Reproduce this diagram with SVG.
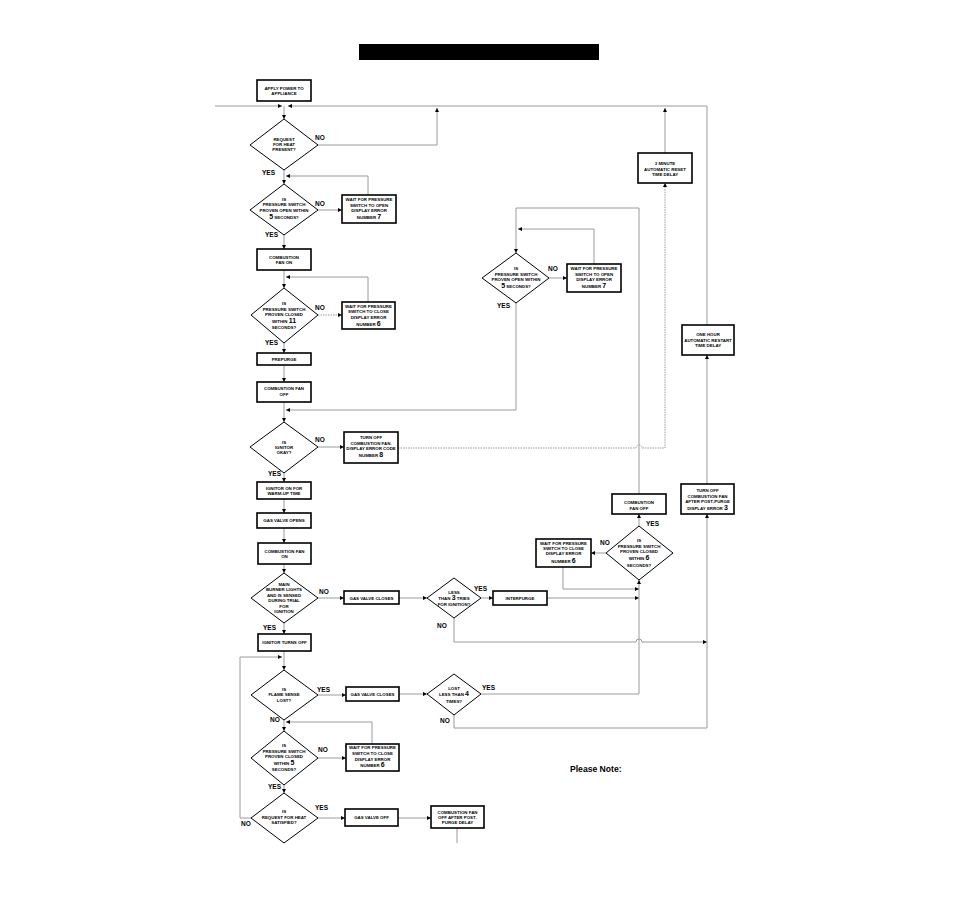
<svg xmlns="http://www.w3.org/2000/svg" width="954" height="906" viewBox="0 0 954 906">
<defs>
<marker id="ah" viewBox="0 0 6 6" refX="6" refY="3" markerWidth="4" markerHeight="4" orient="auto" markerUnits="userSpaceOnUse">
<path d="M0,0 L6,3 L0,6 z" fill="#000"/>
</marker>
</defs>
<style>
.box{fill:#fff;stroke:#000;stroke-width:1.6}
.dia{fill:#fff;stroke:#000;stroke-width:1}
.t{font-family:"Liberation Sans",Arial,sans-serif;font-weight:bold;font-size:4.4px;text-anchor:middle;fill:#000}
.n{font-size:7px}
.l{font-family:"Liberation Sans",Arial,sans-serif;font-weight:bold;font-size:6.5px;fill:#000}
.c{fill:none;stroke:#9a9a9a;stroke-width:1}
.a{marker-end:url(#ah)}
.d{stroke-dasharray:1.5,1}
</style>
<rect width="954" height="906" fill="#fff"/>
<rect id="title" x="359" y="44" width="240" height="16" fill="#000"/>

<g id="connectors">
<path class="c a" d="M215,106 H282"/>
<path class="c a" d="M707,325 V106 H288"/>
<path class="c a" d="M318,145 H437 V108"/>
<path class="c a" d="M665,153 V108"/>
<path class="c a" d="M284,106 V119"/>
<path class="c a" d="M284,170 V184"/>
<path class="c a" d="M318,210 H342"/>
<path class="c a" d="M368,195 V176 H286"/>
<path class="c a" d="M284,235 V249"/>
<path class="c a" d="M284,270 V288"/>
<path class="c a" d="M368,302 V277 H286"/>
<path class="c a d" d="M318,315 H342"/>
<path class="c a" d="M284,343 V353"/>
<path class="c a" d="M284,365 V382"/>
<path class="c a" d="M284,402 V422"/>
<path class="c a" d="M516,303 V410 H286"/>
<path class="c a" d="M318,447 H344"/>
<path class="c a d" d="M398,448 H636 a3,3 0 0 1 6,0 H665 V183"/>
<path class="c a" d="M284,473 V482"/>
<path class="c a" d="M284,499 V513"/>
<path class="c a" d="M284,528 V543"/>
<path class="c a" d="M284,564 V573"/>
<path class="c a" d="M318,598 H344"/>
<path class="c a" d="M399,598 H427"/>
<path class="c a" d="M481,598 H493"/>
<path class="c a" d="M547,598 H639"/>
<path class="c a" d="M454,618 V642 H636 a3,3 0 0 1 6,0 H707"/>
<path class="c a" d="M284,623 V634"/>
<path class="c a" d="M284,651 V670"/>
<path class="c a" d="M251,818 H240 V657 H282"/>
<path class="c a" d="M318,695 H346"/>
<path class="c a" d="M399,694 H427"/>
<path class="c a" d="M481,694 H639 V580"/>
<path class="c a" d="M454,715 V728 H707 V514"/>
<path class="c a" d="M707,484 V355"/>
<path class="c a" d="M284,720 V731"/>
<path class="c a" d="M372,744 V722 H286"/>
<path class="c a" d="M318,758 H346"/>
<path class="c a" d="M284,785 V793"/>
<path class="c a" d="M318,818 H345"/>
<path class="c a" d="M398,818 H431"/>
<path class="c" d="M457,828 V843"/>
<path class="c a" d="M639,526 V514"/>
<path class="c a" d="M606,553 H591"/>
<path class="c a" d="M563,567 V589 H639"/>
<path class="c a" d="M639,494 V208 H516 V253"/>
<path class="c a" d="M549,278 H567"/>
<path class="c a" d="M594,264 V229 H518"/>
</g>

<g id="labels">
<text class="l" x="315" y="139.5">NO</text>
<text class="l" x="262" y="175">YES</text>
<text class="l" x="315" y="205.5">NO</text>
<text class="l" x="265" y="237">YES</text>
<text class="l" x="315" y="310">NO</text>
<text class="l" x="265" y="345">YES</text>
<text class="l" x="315" y="441.5">NO</text>
<text class="l" x="268" y="475.5">YES</text>
<text class="l" x="319" y="593.5">NO</text>
<text class="l" x="263" y="629.5">YES</text>
<text class="l" x="474" y="590.5">YES</text>
<text class="l" x="437" y="627.5">NO</text>
<text class="l" x="548" y="270.5">NO</text>
<text class="l" x="497" y="307.5">YES</text>
<text class="l" x="646" y="525.5">YES</text>
<text class="l" x="600" y="544.5">NO</text>
<text class="l" x="317" y="691.5">YES</text>
<text class="l" x="270" y="721.5">NO</text>
<text class="l" x="482" y="689.5">YES</text>
<text class="l" x="440" y="723">NO</text>
<text class="l" x="318" y="751.5">NO</text>
<text class="l" x="268" y="789">YES</text>
<text class="l" x="315" y="809.5">YES</text>
<text class="l" x="241" y="826">NO</text>
</g>

<g id="apply"><rect class="box" x="257" y="80" width="54" height="21"/>
<text class="t" x="284" y="89.5">APPLY POWER TO</text><text class="t" x="284" y="94.5">APPLIANCE</text></g>

<g id="d1"><polygon class="dia" points="284,119 318,145 284,170 250,145"/>
<text class="t" x="284" y="140.5">REQUEST</text><text class="t" x="284" y="145.5">FOR HEAT</text><text class="t" x="284" y="150.5">PRESENT?</text></g>

<g id="d2"><polygon class="dia" points="284,184 318,210 284,235 250,210"/>
<text class="t" x="284" y="200.5">IS</text><text class="t" x="284" y="206">PRESSURE SWITCH</text><text class="t" x="284" y="211.5">PROVEN OPEN WITHIN</text><text class="t" x="284" y="219"><tspan class="n">5</tspan> SECONDS?</text></g>

<g id="wait7a"><rect class="box" x="342" y="195" width="54" height="28"/>
<text class="t" x="369" y="200.5">WAIT FOR PRESSURE</text><text class="t" x="369" y="206.5">SWITCH TO OPEN</text><text class="t" x="369" y="211.5">DISPLAY ERROR</text><text class="t" x="369" y="219">NUMBER <tspan class="n">7</tspan></text></g>

<g id="fanon1"><rect class="box" x="257" y="249" width="54" height="21"/>
<text class="t" x="284" y="258.5">COMBUSTION</text><text class="t" x="284" y="263.5">FAN ON</text></g>

<g id="d3"><polygon class="dia" points="284,288 318,315 284,343 251,315"/>
<text class="t" x="284" y="304.5">IS</text><text class="t" x="284" y="310.5">PRESSURE SWITCH</text><text class="t" x="284" y="315.5">PROVEN CLOSED</text><text class="t" x="284" y="323">WITHIN <tspan class="n">11</tspan></text><text class="t" x="284" y="328.5">SECONDS?</text></g>

<g id="wait6a"><rect class="box" x="342" y="302" width="53" height="27"/>
<text class="t" x="368.5" y="307.5">WAIT FOR PRESSURE</text><text class="t" x="368.5" y="312.5">SWITCH TO CLOSE</text><text class="t" x="368.5" y="318.5">DISPLAY ERROR</text><text class="t" x="368.5" y="326">NUMBER  <tspan class="n">6</tspan></text></g>

<g id="prepurge"><rect class="box" x="257" y="353" width="54" height="12"/>
<text class="t" x="284" y="360.5">PREPURGE</text></g>

<g id="fanoff1"><rect class="box" x="257" y="382" width="54" height="20"/>
<text class="t" x="284" y="389.5">COMBUSTION FAN</text><text class="t" x="284" y="395.5">OFF</text></g>

<g id="d4"><polygon class="dia" points="284,422 318,447 284,473 250,447"/>
<text class="t" x="284" y="443.5">IS</text><text class="t" x="284" y="448.5">IGNITOR</text><text class="t" x="284" y="453.5">OKAY?</text></g>

<g id="err8"><rect class="box" x="344" y="432" width="54" height="31"/>
<text class="t" x="371" y="438.5">TURN OFF</text><text class="t" x="371" y="444.5">COMBUSTION FAN.</text><text class="t" x="371" y="449.5">DISPLAY ERROR CODE</text><text class="t" x="371" y="457">NUMBER <tspan class="n">8</tspan></text></g>

<g id="ignon"><rect class="box" x="257" y="482" width="54" height="17"/>
<text class="t" x="284" y="489.5">IGNITOR ON FOR</text><text class="t" x="284" y="494.5">WARM-UP TIME</text></g>

<g id="gvopen"><rect class="box" x="257" y="513" width="54" height="15"/>
<text class="t" x="284" y="521.5">GAS VALVE OPENS</text></g>

<g id="fanon2"><rect class="box" x="258" y="543" width="53" height="21"/>
<text class="t" x="284.5" y="552.5">COMBUSTION FAN</text><text class="t" x="284.5" y="557.5">ON</text></g>

<g id="d5"><polygon class="dia" points="284,573 318,598 284,623 251,598"/>
<text class="t" x="284" y="585.5">MAIN</text><text class="t" x="284" y="590.5">BURNER LIGHTS</text><text class="t" x="284" y="596.5">AND IS SENSED</text><text class="t" x="284" y="601.5">DURING TRIAL</text><text class="t" x="284" y="607.5">FOR</text><text class="t" x="284" y="612.5">IGNITION</text></g>

<g id="gvclose1"><rect class="box" x="344" y="591" width="55" height="13"/>
<text class="t" x="371.5" y="599.5">GAS VALVE CLOSES</text></g>

<g id="d6"><polygon class="dia" points="454,578 481,598 454,618 427,598"/>
<text class="t" x="454" y="593.5">LESS</text><text class="t" x="454" y="600">THAN <tspan class="n">3</tspan> TRIES</text><text class="t" x="454" y="605.5">FOR IGNITION?</text></g>

<g id="interpurge"><rect class="box" x="493" y="591" width="54" height="14"/>
<text class="t" x="520" y="599.5">INTERPURGE</text></g>

<g id="ignoff"><rect class="box" x="258" y="634" width="53" height="17"/>
<text class="t" x="284.5" y="643.5">IGNITOR TURNS OFF</text></g>

<g id="d10"><polygon class="dia" points="284,670 318,695 284,720 251,695"/>
<text class="t" x="284" y="690.5">IS</text><text class="t" x="284" y="695.5">FLAME SENSE</text><text class="t" x="284" y="701.5">LOST?</text></g>

<g id="gvclose2"><rect class="box" x="346" y="687" width="53" height="14"/>
<text class="t" x="372.5" y="695.5">GAS VALVE CLOSES</text></g>

<g id="d9"><polygon class="dia" points="454,674 481,694 454,715 427,694"/>
<text class="t" x="454" y="689.5">LOST</text><text class="t" x="454" y="696">LESS THAN <tspan class="n">4</tspan></text><text class="t" x="454" y="702.5">TIMES?</text></g>

<g id="d11"><polygon class="dia" points="284,731 318,758 284,785 251,758"/>
<text class="t" x="284" y="746.5">IS</text><text class="t" x="284" y="752.5">PRESSURE SWITCH</text><text class="t" x="284" y="757.5">PROVEN CLOSED</text><text class="t" x="284" y="765">WITHIN <tspan class="n">5</tspan></text><text class="t" x="284" y="770.5">SECONDS?</text></g>

<g id="wait6c"><rect class="box" x="346" y="744" width="53" height="27"/>
<text class="t" x="372.5" y="748.5">WAIT FOR PRESSURE</text><text class="t" x="372.5" y="754.5">SWITCH TO CLOSE</text><text class="t" x="372.5" y="760.5">DISPLAY ERROR</text><text class="t" x="372.5" y="767">NUMBER <tspan class="n">6</tspan></text></g>

<g id="d12"><polygon class="dia" points="284,793 318,818 284,843 251,818"/>
<text class="t" x="284" y="812.5">IS</text><text class="t" x="284" y="818.5">REQUEST FOR HEAT</text><text class="t" x="284" y="823.5">SATISFIED?</text></g>

<g id="gvoff"><rect class="box" x="345" y="809" width="53" height="17"/>
<text class="t" x="371.5" y="818.5">GAS VALVE OFF</text></g>

<g id="postpurge"><rect class="box" x="431" y="806" width="53" height="22"/>
<text class="t" x="457.5" y="813.5">COMBUSTION FAN</text><text class="t" x="457.5" y="818.5">OFF AFTER POST-</text><text class="t" x="457.5" y="823.5">PURGE DELAY</text></g>

<g id="d7"><polygon class="dia" points="516,253 549,278 516,303 482,278"/>
<text class="t" x="516" y="269.5">IS</text><text class="t" x="516" y="275.5">PRESSURE SWITCH</text><text class="t" x="516" y="280.5">PROVEN OPEN WITHIN</text><text class="t" x="516" y="288"><tspan class="n">5</tspan> SECONDS?</text></g>

<g id="wait7b"><rect class="box" x="567" y="264" width="54" height="28"/>
<text class="t" x="594" y="269.5">WAIT FOR PRESSURE</text><text class="t" x="594" y="275.5">SWITCH TO OPEN</text><text class="t" x="594" y="280.5">DISPLAY ERROR</text><text class="t" x="594" y="288">NUMBER <tspan class="n">7</tspan></text></g>

<g id="min3"><rect class="box" x="638" y="153" width="54" height="30"/>
<text class="t" x="665" y="164.5">3 MINUTE</text><text class="t" x="665" y="170.5">AUTOMATIC RESET</text><text class="t" x="665" y="175.5">TIME DELAY</text></g>

<g id="hour1"><rect class="box" x="682" y="325" width="52" height="30"/>
<text class="t" x="708" y="335.5">ONE HOUR</text><text class="t" x="708" y="341.5">AUTOMATIC RESTART</text><text class="t" x="708" y="346.5">TIME DELAY</text></g>

<g id="turnoff3"><rect class="box" x="681" y="484" width="53" height="30"/>
<text class="t" x="707.5" y="491.5">TURN OFF</text><text class="t" x="707.5" y="497.5">COMBUSTION FAN</text><text class="t" x="707.5" y="502.5">AFTER POST-PURGE</text><text class="t" x="707.5" y="510">DISPLAY ERROR <tspan class="n">3</tspan></text></g>

<g id="fanoff2"><rect class="box" x="612" y="494" width="54" height="20"/>
<text class="t" x="639" y="503.5">COMBUSTION</text><text class="t" x="639" y="509.5">FAN OFF</text></g>

<g id="d8"><polygon class="dia" points="639,526 673,553 639,580 606,553"/>
<text class="t" x="639" y="541.5">IS</text><text class="t" x="639" y="547.5">PRESSURE SWITCH</text><text class="t" x="639" y="552.5">PROVEN CLOSED</text><text class="t" x="639" y="560">WITHIN <tspan class="n">6</tspan></text><text class="t" x="639" y="566.5">SECONDS?</text></g>

<g id="wait6b"><rect class="box" x="536" y="539" width="55" height="28"/>
<text class="t" x="563.5" y="544.5">WAIT FOR PRESSURE</text><text class="t" x="563.5" y="549.5">SWITCH TO CLOSE</text><text class="t" x="563.5" y="554.5">DISPLAY ERROR</text><text class="t" x="563.5" y="562.5">NUMBER <tspan class="n">6</tspan></text></g>

<text x="570" y="771.5" font-family="Liberation Sans, Arial, sans-serif" font-weight="bold" font-size="8.6" fill="#000">Please Note:</text>
</svg>
